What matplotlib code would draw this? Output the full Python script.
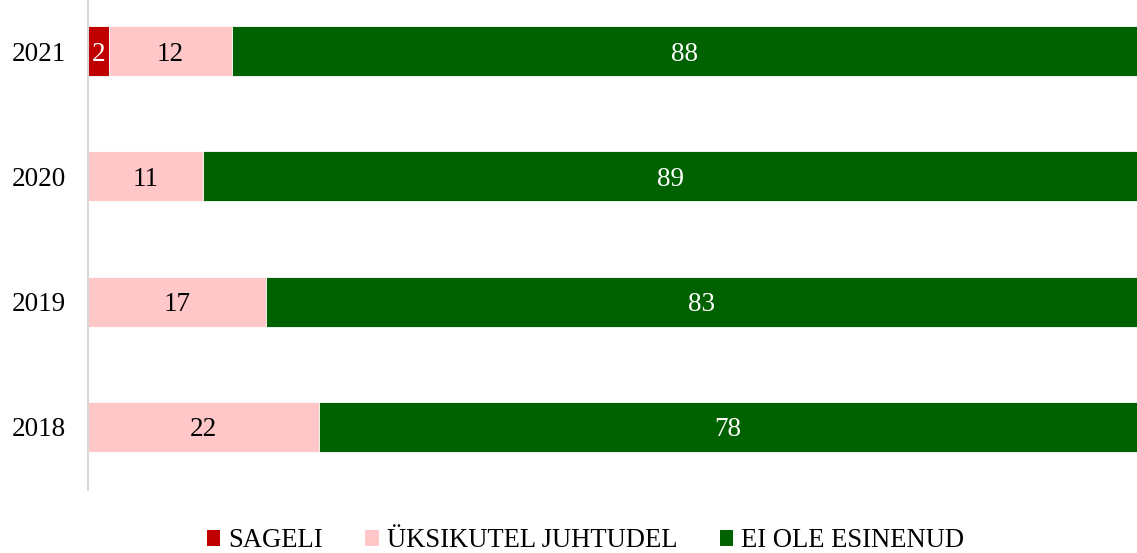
import numpy as np
import matplotlib.pyplot as plt
from matplotlib.patches import Patch

plt.rcParams["font.family"] = ["Liberation Serif", "DejaVu Serif"]

# data (top row first)
years = ["2021", "2020", "2019", "2018"]
sageli = [2, 0, 0, 0]
yksikutel = [12, 11, 17, 22]
ei_ole = [88, 89, 83, 78]

series_names = ["SAGELI", "ÜKSIKUTEL JUHTUDEL", "EI OLE ESINENUD"]
colors = ["#C00000", "#FFC7C7", "#006100"]
text_colors = ["white", "black", "white"]

fig = plt.figure(figsize=(11.37, 5.53), dpi=100)
ax = fig.add_axes([88 / 1137, 1 - 489.5 / 553, 1 - 88 / 1137, 501 / 553])

values = np.array([sageli, yksikutel, ei_ole], dtype=float)
totals = values.sum(axis=0)
shares = values / totals * 100  # 100% stacked

ypos = np.arange(len(years))
left = np.zeros(len(years))
for i in range(len(series_names)):
    ax.barh(ypos, shares[i], left=left, height=0.4, color=colors[i],
            edgecolor="white", linewidth=0.6)
    for j in range(len(years)):
        if values[i, j] > 0:
            ax.text(left[j] + shares[i, j] / 2, ypos[j], f"{int(values[i, j])}",
                    ha="center", va="center_baseline", fontsize=19.5,
                    color=text_colors[i])
    left += shares[i]

ax.set_xlim(0, 100)
ax.set_ylim(len(years) - 0.5, -0.5)
ax.set_yticks(ypos)
ax.set_yticklabels(years, fontsize=19.5, va="center_baseline")
ax.tick_params(axis="y", length=0, pad=16)
ax.set_xticks([])
for side in ["top", "right", "bottom"]:
    ax.spines[side].set_visible(False)
ax.spines["left"].set_color("#D9D9D9")
ax.spines["left"].set_linewidth(1.5)

handles = [Patch(facecolor=c, edgecolor="none") for c in colors]
fig.legend(handles, series_names, loc="center", bbox_to_anchor=(0.515, 0.022),
           ncol=3, frameon=False, fontsize=19.2, handlelength=0.5, handleheight=0.55,
           handletextpad=0.3, columnspacing=1.6)

fig.savefig("out.png", dpi=100)
